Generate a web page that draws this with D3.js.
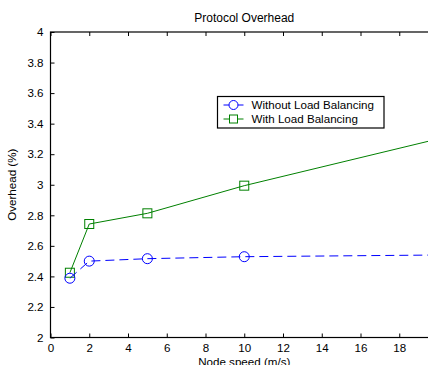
<!DOCTYPE html>
<html>
<head>
<meta charset="utf-8">
<script src="https://cdn.jsdelivr.net/npm/d3@7"></script>
<style>
  body { margin: 0; background: #fff; }
  svg { display: block; font-family: "Liberation Sans", Arial, sans-serif; }
</style>
</head>
<body>
<div id="chart"></div>
<script>
// Data
const speeds = [1, 2, 5, 10, 20];
const withoutLB = [2.388, 2.50, 2.516, 2.529, 2.54];
const withLB = [2.424, 2.743, 2.813, 2.994, 3.30];
const xTicks = [0, 2, 4, 6, 8, 10, 12, 14, 16, 18, 20];
const yTicks = [2, 2.2, 2.4, 2.6, 2.8, 3, 3.2, 3.4, 3.6, 3.8, 4];
const seriesNames = ['Without Load Balancing', 'With Load Balancing'];

const width = 428, height = 365;
const fs = 11.6;
const svg = d3.select('#chart').append('svg')
    .attr('width', width)
    .attr('height', height);

// Axes box (right side runs past the window, like the reference)
const plotL = 50.5, plotR = 438, plotT = 32, plotB = 337.5;
const x = d3.scaleLinear().domain([0, 20]).range([plotL, plotR]);
const y = d3.scaleLinear().domain([2, 4]).range([plotB, plotT]);

// Box
svg.append('rect')
    .attr('x', plotL).attr('y', plotT)
    .attr('width', plotR - plotL).attr('height', plotB - plotT)
    .attr('fill', 'none').attr('stroke', '#000').attr('stroke-width', 1.2);

// Inward ticks, MATLAB style (the 20 label falls outside the window)
const tickLen = 4;
svg.append('g')
    .attr('transform', `translate(0,${plotB})`)
    .call(d3.axisBottom(x).tickValues(xTicks).tickSizeInner(-tickLen).tickSizeOuter(0).tickPadding(6)
        .tickFormat(d => d < 20 ? String(d) : ''))
    .call(g => g.select('.domain').remove());
svg.append('g')
    .attr('transform', `translate(0,${plotT})`)
    .call(d3.axisTop(x).tickValues(xTicks).tickSizeInner(-tickLen).tickSizeOuter(0).tickFormat(''))
    .call(g => g.select('.domain').remove());
svg.append('g')
    .attr('transform', `translate(${plotL},0)`)
    .call(d3.axisLeft(y).tickValues(yTicks).tickSizeInner(-tickLen).tickSizeOuter(0).tickPadding(7)
        .tickFormat(d => String(+d.toFixed(1))))
    .call(g => g.select('.domain').remove());

svg.selectAll('.tick text')
    .attr('font-size', fs)
    .attr('font-family', '"Liberation Sans", Arial, sans-serif')
    .attr('fill', '#000');
svg.selectAll('.tick line').attr('stroke', '#000');

// Title and axis labels
svg.append('text')
    .attr('x', (plotL + plotR) / 2).attr('y', 22)
    .attr('text-anchor', 'middle').attr('font-size', 12)
    .text('Protocol Overhead');
svg.append('text')
    .attr('x', (plotL + plotR) / 2).attr('y', 366)
    .attr('text-anchor', 'middle').attr('font-size', fs)
    .text('Node speed (m/s)');
svg.append('text')
    .attr('transform', `translate(16,${(plotT + plotB) / 2}) rotate(-90)`)
    .attr('text-anchor', 'middle').attr('font-size', fs)
    .text('Overhead (%)');

const line = d3.line().x(d => x(d[0])).y(d => y(d[1]));

const blue = '#0000ff', green = '#008000';
const blueData = speeds.map((s, i) => [s, withoutLB[i]]);
const greenData = speeds.map((s, i) => [s, withLB[i]]);

// With load balancing: green solid, squares
svg.append('path')
    .datum(greenData)
    .attr('d', line)
    .attr('fill', 'none').attr('stroke', green).attr('stroke-width', 1);
svg.selectAll('.sq')
    .data(greenData)
    .enter().append('rect')
    .attr('class', 'sq')
    .attr('x', d => x(d[0]) - 4.5).attr('y', d => y(d[1]) - 4.5)
    .attr('width', 9).attr('height', 9)
    .attr('fill', 'none').attr('stroke', green).attr('stroke-width', 1);

// Without load balancing: blue dashed, circles
svg.append('path')
    .datum(blueData)
    .attr('d', line)
    .attr('fill', 'none').attr('stroke', blue).attr('stroke-width', 1)
    .attr('stroke-dasharray', '9,5');
svg.selectAll('.ci')
    .data(blueData)
    .enter().append('circle')
    .attr('class', 'ci')
    .attr('cx', d => x(d[0])).attr('cy', d => y(d[1]))
    .attr('r', 5)
    .attr('fill', 'none').attr('stroke', blue).attr('stroke-width', 1);

// Legend
const lg = svg.append('g').attr('transform', 'translate(217.5,96.5)');
lg.append('rect')
    .attr('width', 166.5).attr('height', 31.5)
    .attr('fill', '#fff').attr('stroke', '#000').attr('stroke-width', 1.2);
const rows = [
    { name: seriesNames[0], color: blue, mark: 'circle' },
    { name: seriesNames[1], color: green, mark: 'square' }
];
rows.forEach((r, i) => {
    const cy = 8.5 + i * 14;
    lg.append('line')
        .attr('x1', 6).attr('x2', 26).attr('y1', cy).attr('y2', cy)
        .attr('stroke', r.color).attr('stroke-width', 1);
    if (r.mark === 'circle') {
        lg.append('circle').attr('cx', 16).attr('cy', cy).attr('r', 4.5)
            .attr('fill', '#fff').attr('stroke', r.color);
    } else {
        lg.append('rect').attr('x', 12).attr('y', cy - 4).attr('width', 8).attr('height', 8)
            .attr('fill', '#fff').attr('stroke', r.color);
    }
    lg.append('text')
        .attr('x', 34).attr('y', cy + 4)
        .attr('font-size', fs)
        .text(r.name);
});
</script>
</body>
</html>
